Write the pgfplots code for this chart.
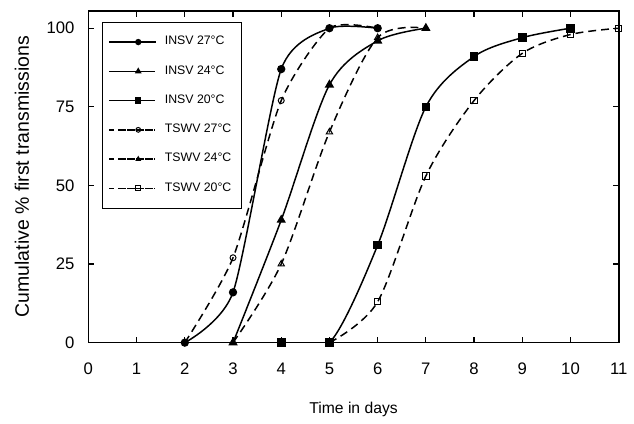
\documentclass[border=0pt]{standalone}
\usepackage{pgfplots}
\pgfplotsset{compat=1.18}
\usepackage{fontspec}
\setmainfont{Liberation Sans}

\begin{document}
\begin{tikzpicture}
\begin{axis}[
  name=ax,
  scale only axis,
  width=267pt, height=167pt,
  xmin=0, xmax=11, ymin=0, ymax=105.5,
  xtick={0,1,...,11}, ytick={0,25,50,75,100},
  tick align=inside,
  major tick length=3pt,
  axis line style={line width=0.8pt},
  tick style={line width=0.6pt, black},
  ticklabel style={font=\fontsize{8.4}{10}\selectfont},
  xticklabel style={yshift=-6.5pt},
  yticklabel style={xshift=-3.5pt},
  /pgf/number format/assume math mode=true,
  xlabel={Time in days},
  ylabel={Cumulative \% first transmissions},
  xlabel style={font=\fontsize{7.9}{10}\selectfont, yshift=-7pt},
  ylabel style={font=\fontsize{9.8}{12}\selectfont, yshift=2pt},
  legend cell align=left,
  legend style={at={(0.026,0.967)}, anchor=north west,
    font=\fontsize{6.2}{8}\selectfont, draw=black, line width=0.5pt,
    row sep=4.9pt, inner xsep=3pt, inner ysep=5pt,
    /tikz/every odd column/.append style={column sep=2.5pt}},
  legend image code/.code={
    \path (-6pt,0pt) -- (0.6cm,0pt);
    \draw[line width=0.75pt, mark repeat=2, mark phase=2, mark size=1.2pt]
      plot coordinates {(0cm,0cm)(0.3cm,0cm)(0.6cm,0cm)};
  },
  every axis plot/.append style={line width=0.75pt, black, smooth, tension=0.5},
  mark size=1.8pt,
]
% TSWV curves (dashed, open marks) drawn first
\addplot[dash pattern=on 4pt off 2.5pt, tension=0.4, mark=o, mark size=1.5pt, mark options={solid, fill=white, line width=0.5pt}, forget plot]
  coordinates {(2,0)(3,27)(4,77)(5,100)(6,100)};
\addplot[dash pattern=on 4pt off 2.5pt, mark=triangle, mark options={solid, fill=white, line width=0.5pt}, forget plot]
  coordinates {(3,0)(4,25)(5,67)(6,97)(7,100)};
\addplot[dash pattern=on 4pt off 2.5pt, mark=square, mark size=1.6pt, mark options={solid, fill=white, line width=0.5pt}, forget plot]
  coordinates {(5,0)(6,13)(7,53)(8,77)(9,92)(10,98)(11,100)};
% INSV curves (solid, filled marks)
\addplot[mark=*, mark size=1.7pt, tension=0.4] coordinates {(2,0)(3,16)(4,87)(5,100)(6,100)};
\addplot[mark=triangle*, mark size=2pt] coordinates {(3,0)(4,39)(5,82)(6,96)(7,100)};
\addplot[mark=square*] coordinates {(4,0)(5,0)(6,31)(7,75)(8,91)(9,97)(10,100)};
% legend-only entries for TSWV
\addlegendimage{dash pattern=on 2.5pt off 2pt, mark=o, mark options={solid, fill=white, line width=0.5pt}}
\addlegendimage{dash pattern=on 2.5pt off 2pt, mark=triangle, mark options={solid, fill=white, line width=0.5pt}}
\addlegendimage{dash pattern=on 2.5pt off 2pt, mark=square, mark options={solid, fill=white, line width=0.5pt}}
\legend{INSV 27°C, INSV 24°C, INSV 20°C, TSWV 27°C, TSWV 24°C, TSWV 20°C}
\end{axis}
\path (ax.south west) ++(-44.5pt,-35pt) coordinate (bl);
\path (ax.north east) ++(5.5pt,5.5pt) coordinate (tr);
\path[use as bounding box] (bl) rectangle (tr);
\end{tikzpicture}
\end{document}
